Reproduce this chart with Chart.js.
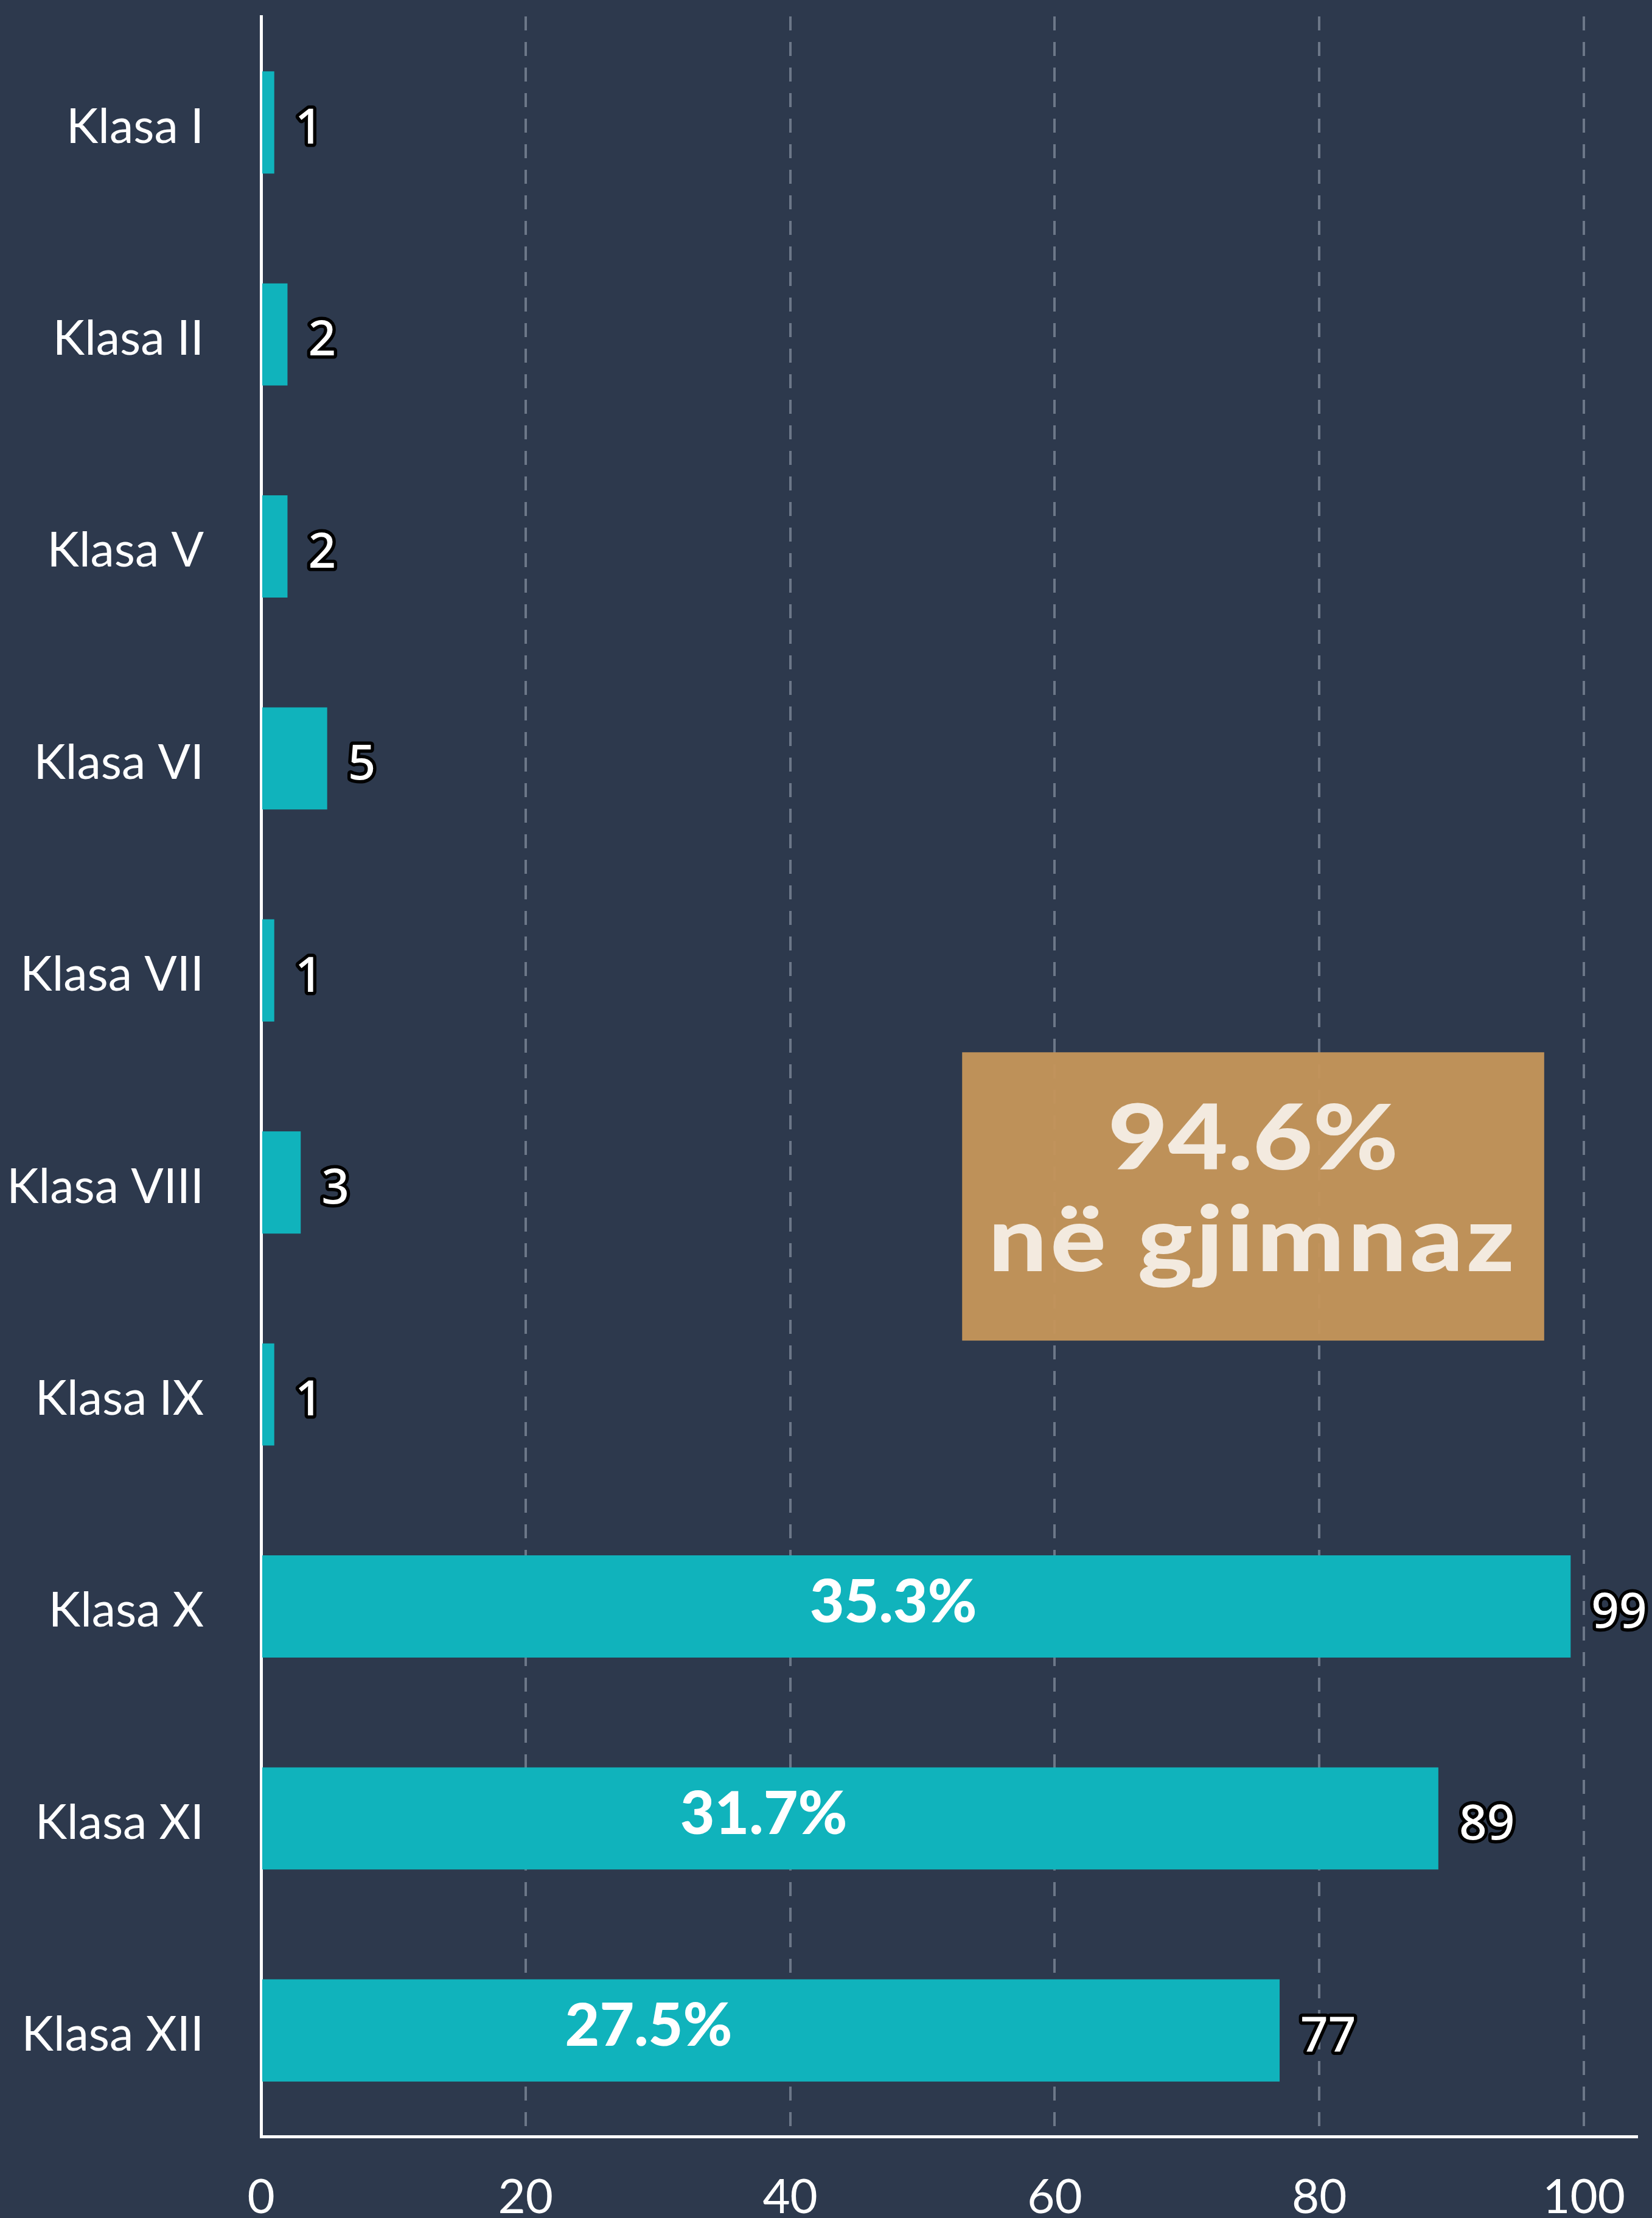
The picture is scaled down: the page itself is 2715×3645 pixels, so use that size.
<!DOCTYPE html>
<html>
<head>
<meta charset="utf-8">
<script src="https://cdn.jsdelivr.net/npm/chart.js@4.4.1/dist/chart.umd.min.js"></script>
<style>
    html, body { margin: 0; padding: 0; background: #2d394d; }
    #wrap { width: 2715px; height: 3645px; }
</style>
</head>
<body>
<div id="wrap"><canvas id="chart" width="2715" height="3645"></canvas></div>
<script>
// Data
const classes = ['Klasa I', 'Klasa II', 'Klasa V', 'Klasa VI', 'Klasa VII', 'Klasa VIII', 'Klasa IX', 'Klasa X', 'Klasa XI', 'Klasa XII'];
const students = [1, 2, 2, 5, 1, 3, 1, 99, 89, 77];
const shares = [null, null, null, null, null, null, null, '35.3%', '31.7%', '27.5%'];
const xTicks = [0, 20, 40, 60, 80, 100];
const noteLines = ['94.6%', 'në gjimnaz'];

// Where the share labels sit (value-axis units), as in the original
const shareLabelAt = [null, null, null, null, null, null, null, 47.8, 38, 29.3];

const teal = '#10b3bc';

// Value labels next to bars (white text with black outline) + share labels inside bars
const barLabels = {
    id: 'barLabels',
    afterDatasetsDraw(chart) {
        const ctx = chart.ctx;
        const meta = chart.getDatasetMeta(0);
        const xs = chart.scales.x;
        ctx.save();
        meta.data.forEach((bar, i) => {
            ctx.font = '500 80px "Noto Sans"';
            ctx.textAlign = 'left';
            ctx.textBaseline = 'middle';
            ctx.lineJoin = 'round';
            ctx.lineWidth = 11;
            ctx.strokeStyle = '#000';
            ctx.strokeText(String(students[i]), bar.x + 34, bar.y + 12);
            ctx.fillStyle = '#fff';
            ctx.fillText(String(students[i]), bar.x + 34, bar.y + 12);

            if (shares[i]) {
                ctx.font = '900 98px Lato';
                ctx.textAlign = 'center';
                ctx.fillStyle = '#fff';
                ctx.fillText(shares[i], xs.getPixelForValue(shareLabelAt[i]), bar.y - 6);
            }
        });
        ctx.restore();
    }
};

// Gold note box
const noteBox = {
    id: 'noteBox',
    afterDatasetsDraw(chart) {
        const ctx = chart.ctx;
        const xs = chart.scales.x;
        const ys = chart.scales.y;
        const x0 = xs.getPixelForValue(53), x1 = xs.getPixelForValue(97);
        const y0 = ys.getPixelForValue(4.386), y1 = ys.getPixelForValue(5.746);
        ctx.save();
        ctx.fillStyle = 'rgba(198, 150, 90, 0.95)';
        ctx.fillRect(x0, y0, x1 - x0, y1 - y0);
        ctx.fillStyle = '#f3eadf';
        ctx.textAlign = 'center';
        ctx.textBaseline = 'alphabetic';
        ctx.font = '900 148px Lato';
        const cx = (x0 + x1) / 2;
        ctx.translate(cx, 0);
        ctx.scale(1.15, 1);
        ctx.letterSpacing = '0px';
        ctx.fillText(noteLines[0], 0, y0 + 193);
        ctx.letterSpacing = '5px';
        ctx.fillText(noteLines[1], 0, y0 + 360);
        ctx.restore();
    }
};

Chart.defaults.font.family = 'Lato';
Chart.defaults.color = '#fff';

new Chart(document.getElementById('chart').getContext('2d'), {
    type: 'bar',
    data: {
        labels: classes,
        datasets: [{
            data: students,
            backgroundColor: teal,
            borderWidth: 0,
            categoryPercentage: 1,
            barPercentage: 0.482
        }]
    },
    options: {
        indexAxis: 'y',
        responsive: false,
        animation: false,
        maintainAspectRatio: false,
        layout: { padding: { left: 0, right: 25, top: 27, bottom: 0 } },
        plugins: {
            legend: { display: false },
            tooltip: { enabled: false }
        },
        scales: {
            x: {
                min: 0,
                max: 104,
                afterBuildTicks(scale) {
                    scale.ticks = xTicks.map(v => ({ value: v }));
                },
                afterFit(scale) {
                    scale.height = 134;
                    scale.paddingLeft = 0;
                    scale.paddingRight = 0;
                },
                grid: {
                    color: ctx => ctx.tick && ctx.tick.value === 0 ? 'rgba(0,0,0,0)' : 'rgba(130, 140, 156, 0.75)',
                    lineWidth: 4,
                    drawTicks: false
                },
                border: { display: true, color: '#fff', width: 5, dash: [23, 19] },
                ticks: {
                    font: { size: 78 },
                    color: '#fff',
                    padding: 54,
                    maxRotation: 0
                }
            },
            y: {
                afterFit(scale) {
                    scale.width = 429;
                    scale.paddingTop = 0;
                    scale.paddingBottom = 0;
                },
                grid: { display: false, drawTicks: false },
                border: { display: true, color: '#fff', width: 5 },
                ticks: {
                    font: { size: 79 },
                    color: '#fff',
                    padding: 94,
                    labelOffset: 8
                }
            }
        }
    },
    plugins: [barLabels, noteBox]
});
</script>
</body>
</html>
